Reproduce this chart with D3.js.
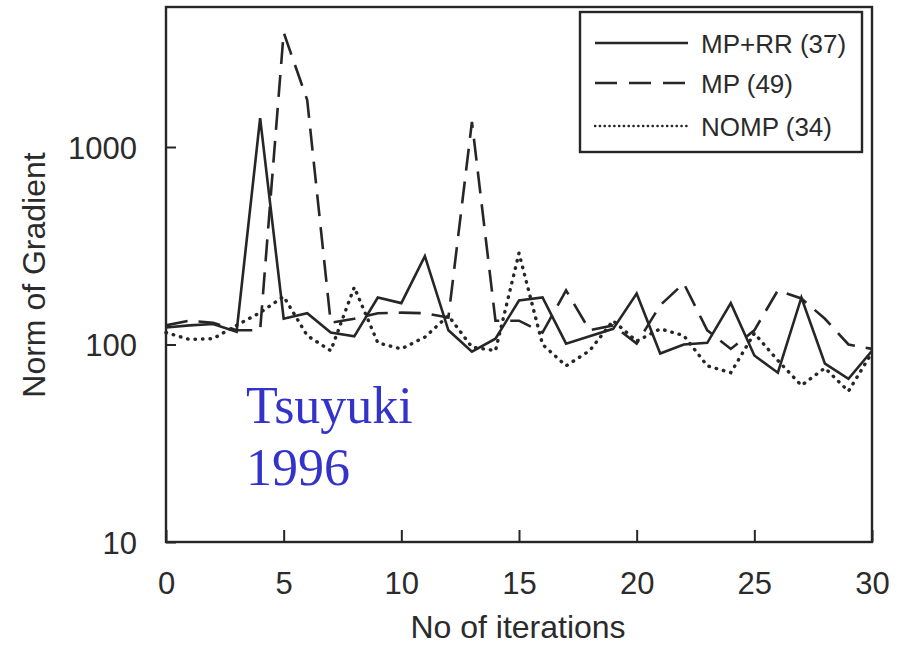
<!DOCTYPE html>
<html>
<head>
<meta charset="utf-8">
<script src="https://cdn.jsdelivr.net/npm/d3@7"></script>
<style>
  body { margin: 0; background: #fff; }
  svg { display: block; }
</style>
</head>
<body>
<svg id="chart" width="907" height="645"></svg>
<script>
// ---- data ----
const iterations = d3.range(0, 31);
const mpRR = [122,125,127,116,1400,135,144,115,110,173,162,280,118,92,107,167,173,101,110,120,181,90,100,102,162,88,72,173,80,67,93];
const mp   = [125,132,129,118,118,3800,1730,129,135,144,145,144,137,1340,132,132,115,188,118,125,101,158,204,118,95,118,188,171,135,100,95];
const nomp = [115,106,107,125,145,175,111,93,195,102,95,109,140,97,93,290,100,78,93,132,104,120,111,78,72,114,83,62,76,58,91];
const seriesNames = ["MP+RR (37)", "MP (49)", "NOMP (34)"];
const xTicks = [0,5,10,15,20,25,30];
const yTicks = [10,100,1000];
const xLabel = "No of iterations";
const yLabel = "Norm of Gradient";
const noteLines = ["Tsuyuki", "1996"];

// ---- layout ----
const svg = d3.select("#chart");
const L = 166, R = 872, T = 7, B = 542;
const ink = "#262626";
const txt = "#2b2b2b";
const x = d3.scaleLinear().domain([0, 30]).range([L, R]);
const y = d3.scaleLog().domain([10, 1000]).range([B, 147]);

svg.append("rect").attr("width", 907).attr("height", 645).attr("fill", "#ffffff");

const font = "'Liberation Sans', Arial, Helvetica, sans-serif";

// x axis
const gx = svg.append("g").attr("transform", `translate(0,${B})`)
  .call(d3.axisBottom(x).tickValues(xTicks).tickSizeInner(-12).tickSizeOuter(0).tickPadding(0));
gx.select(".domain").remove();
gx.selectAll(".tick line").attr("stroke", ink).attr("stroke-width", 2);
gx.selectAll(".tick text").attr("y", 52).attr("dy", 0)
  .attr("font-family", font).attr("font-size", 31).attr("fill", txt);

// y axis
const gy = svg.append("g").attr("transform", `translate(${L},0)`)
  .call(d3.axisLeft(y).tickValues(yTicks).tickFormat(d3.format("d")).tickSizeInner(-10).tickSizeOuter(0).tickPadding(0));
gy.select(".domain").remove();
gy.selectAll(".tick line").attr("stroke", ink).attr("stroke-width", 2);
gy.selectAll(".tick text").attr("x", -29).attr("dy", 11)
  .attr("font-family", font).attr("font-size", 31).attr("fill", txt);

// frame
svg.append("rect").attr("x", L).attr("y", T).attr("width", R - L).attr("height", B - T)
  .attr("fill", "none").attr("stroke", ink).attr("stroke-width", 2.4);

// axis titles
svg.append("text").attr("x", x(15) - 1).attr("y", 638).attr("text-anchor", "middle")
  .attr("font-family", font).attr("font-size", 32).attr("fill", txt).text(xLabel);
svg.append("text").attr("transform", "translate(45,275) rotate(-90)").attr("text-anchor", "middle")
  .attr("font-family", font).attr("font-size", 32).attr("fill", txt).text(yLabel);

// series
const styles = [
  { data: mpRR, dash: null, cap: "butt", w: 2.6 },
  { data: mp,   dash: "22,11", cap: "butt", w: 2.6 },
  { data: nomp, dash: "0.5,7", cap: "round", w: 3.4 }
];
const line = d3.line().x((d, i) => x(iterations[i])).y(d => y(d));
styles.forEach(s => {
  svg.append("path").datum(s.data).attr("d", line)
    .attr("fill", "none").attr("stroke", ink).attr("stroke-width", s.w)
    .attr("stroke-linejoin", "miter").attr("stroke-linecap", s.cap)
    .attr("stroke-dasharray", s.dash);
});

// legend
const lg = svg.append("g");
lg.append("rect").attr("x", 580).attr("y", 12).attr("width", 282).attr("height", 140)
  .attr("fill", "#fff").attr("stroke", ink).attr("stroke-width", 2.4);
const rowsY = [43, 83, 126];
styles.forEach((s, i) => {
  lg.append("line").attr("x1", 595).attr("x2", 688).attr("y1", rowsY[i]).attr("y2", rowsY[i])
    .attr("stroke", ink).attr("stroke-width", i === 2 ? 2.4 : 2.4)
    .attr("stroke-linecap", i === 2 ? "round" : "butt")
    .attr("stroke-dasharray", i === 0 ? null : (i === 1 ? "22,12" : "0.3,4.5"));
  lg.append("text").attr("x", 701).attr("y", rowsY[i] + 10)
    .attr("font-family", font).attr("font-size", 26).attr("fill", txt).text(seriesNames[i]);
});

// annotation
const note = svg.append("text").attr("font-family", "'Liberation Serif', 'Times New Roman', serif")
  .attr("font-size", 52).attr("fill", "#3333cc");
noteLines.forEach((t, i) => {
  note.append("tspan").attr("x", 246).attr("y", 423 + i * 62).text(t);
});
</script>
</body>
</html>
